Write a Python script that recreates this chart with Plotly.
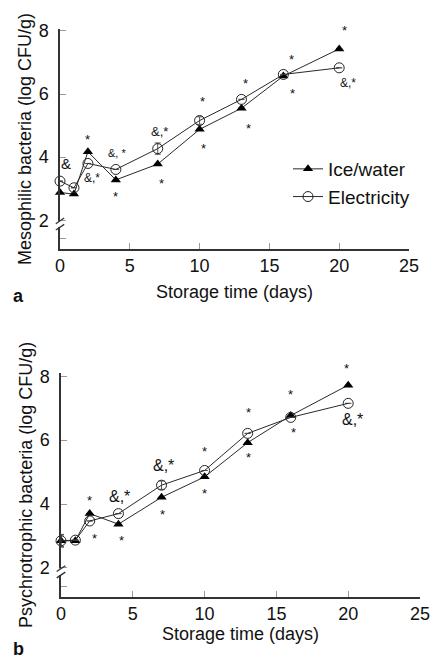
import plotly.graph_objects as go

days = [0, 1, 2, 4, 7, 10, 13, 16, 20]

# Panel a: mesophilic bacteria
meso_ice = [2.88, 2.83, 4.17, 3.28, 3.78, 4.88, 5.55, 6.57, 7.43]
meso_elec = [3.24, 3.03, 3.80, 3.61, 4.27, 5.16, 5.83, 6.62, 6.83]
meso_elec_err = [0, 0, 0, 0, 0.18, 0.12, 0, 0, 0]
meso_ice_err = [0, 0, 0, 0, 0, 0, 0, 0, 0]

# Panel b: psychrotrophic bacteria
psy_ice = [2.85, 2.85, 3.70, 3.37, 4.21, 4.85, 5.92, 6.77, 7.72]
psy_elec = [2.85, 2.87, 3.47, 3.70, 4.59, 5.05, 6.21, 6.71, 7.15]
psy_elec_err = [0.2, 0, 0, 0, 0.13, 0, 0, 0, 0]
psy_ice_err = [0.18, 0, 0, 0, 0, 0, 0, 0, 0]

# significance labels: (x, y, text, size)
meso_marks = [
    (0.45, 3.81, "&", 15), (1.96, 4.66, "*", 13), (2.3, 3.33, "&,*", 12),
    (4.1, 4.12, "&, *", 11), (4.0, 2.84, "*", 13), (7.1, 4.82, "&,*", 13),
    (7.28, 3.27, "*", 13), (10.2, 5.84, "*", 13), (10.3, 4.38, "*", 13),
    (13.3, 6.42, "*", 13), (13.5, 5.0, "*", 13), (16.55, 7.19, "*", 13),
    (16.64, 6.11, "*", 13), (20.37, 8.1, "*", 13), (20.6, 6.34, "&,*", 12),
]
psy_marks = [
    (2.0, 4.2, "*", 13), (2.3, 3.0, "*", 13), (4.05, 4.23, "&,*", 16),
    (4.2, 2.95, "*", 13), (7.15, 5.22, "&,*", 16), (7.04, 3.76, "*", 13),
    (9.97, 5.72, "*", 13), (10.0, 4.41, "*", 13), (13.04, 6.94, "*", 13),
    (13.04, 5.53, "*", 13), (16.0, 7.53, "*", 13), (16.2, 6.34, "*", 13),
    (19.85, 8.32, "*", 13), (20.3, 6.63, "&,*", 16),
]

x_ticks = [0, 5, 10, 15, 20, 25]
y_ticks = [1.43, 2, 4, 6, 8]
y_ticktext = ["", "2", "4", "6", "8"]

W, H = 432, 661
FONT = "Liberation Sans, Arial, sans-serif"
LINE = "#2a2a2a"

ya_range = [1.09, 8.06]
yb_range = [1.1, 8.1]

fig = go.Figure()

def add_panel(ice, elec, ice_err, elec_err, xa, ya, show):
    fig.add_trace(go.Scatter(
        x=days, y=ice, name="Ice/water", mode="lines+markers",
        line=dict(color=LINE, width=1),
        marker=dict(symbol="triangle-up", size=9, color="#000"),
        error_y=dict(type="data", array=ice_err, color="#555", thickness=1, width=3),
        xaxis=xa, yaxis=ya, showlegend=show, cliponaxis=False))
    fig.add_trace(go.Scatter(
        x=days, y=elec, name="Electricity", mode="lines+markers",
        line=dict(color=LINE, width=1),
        marker=dict(symbol="circle-open", size=10, color="#222", line=dict(width=1)),
        error_y=dict(type="data", array=elec_err, color="#555", thickness=1, width=3),
        xaxis=xa, yaxis=ya, showlegend=show, cliponaxis=False))

add_panel(meso_ice, meso_elec, meso_ice_err, meso_elec_err, "x", "y", True)
add_panel(psy_ice, psy_elec, psy_ice_err, psy_elec_err, "x2", "y2", False)

axis_common = dict(
    showline=True, linecolor="#333", linewidth=1.5, ticks="inside", ticklen=6,
    tickcolor="#999", showgrid=False, zeroline=False, automargin=False,
    tickfont=dict(size=18, color="#111", family=FONT),
    title_font=dict(size=18, color="#111", family=FONT),
)

fig.update_layout(
    template="none",
    width=W, height=H, margin=dict(l=0, r=0, t=0, b=0),
    paper_bgcolor="white", plot_bgcolor="white",
    font=dict(family=FONT, color="#111"),
    xaxis=dict(domain=[60 / W, 409 / W], range=[0, 25], tickvals=x_ticks,
               anchor="y", title=dict(text="Storage time (days)", standoff=10), **axis_common),
    yaxis=dict(domain=[1 - 249 / H, 1 - 29 / H], range=ya_range, tickvals=y_ticks,
               ticktext=y_ticktext, anchor="x", ticklabelstandoff=6,
               title=dict(text="Mesophilic bacteria (log CFU/g)", standoff=2), **axis_common),
    xaxis2=dict(domain=[61 / W, 420 / W], range=[0, 25], tickvals=x_ticks,
                anchor="y2", ticklabeloverflow="allow",
                title=dict(text="Storage time (days)", standoff=3), **axis_common),
    yaxis2=dict(domain=[1 - 596.7 / H, 1 - 373 / H], range=yb_range, tickvals=y_ticks,
                ticktext=y_ticktext, anchor="x2", ticklabelstandoff=6,
                title=dict(text="Psychrotrophic bacteria (log CFU/g)", standoff=2), **axis_common),
    legend=dict(x=288 / W, y=1 - 150 / H, xanchor="left", yanchor="top",
                font=dict(size=19, family=FONT, color="#111"), bgcolor="rgba(0,0,0,0)",
                itemwidth=30, tracegroupgap=0),
)

for (xa, ya, marks, rng) in [("x", "y", meso_marks, ya_range), ("x2", "y2", psy_marks, yb_range)]:
    for (mx, my, txt, sz) in marks:
        # position via axis domain fraction so labels above the range stay visible
        frac = (my - rng[0]) / (rng[1] - rng[0])
        fig.add_annotation(x=mx, y=frac, xref=xa, yref=f"{ya} domain", text=txt, showarrow=False,
                           xanchor="center", yanchor="middle",
                           font=dict(size=sz, family=FONT, color="#111"),
                           yshift=-0.22 * sz if txt == "*" else 0)

# axis breaks near 2
for xa, ya in [("x", "y"), ("x2", "y2")]:
    fig.add_shape(type="line", xref=f"{xa} domain", yref=ya, x0=0, x1=0,
                  y0=1.78, y1=1.98, line=dict(color="white", width=4))
    for yb in (1.78, 1.98):
        fig.add_shape(type="line", xref=f"{xa} domain", yref=ya, x0=-0.012, x1=0.012,
                      y0=yb - 0.09, y1=yb + 0.09, line=dict(color="#333", width=1.3))

fig.add_annotation(x=18 / W, y=1 - 296 / H, xref="paper", yref="paper", text="<b>a</b>",
                   xanchor="center", yanchor="middle",
                   showarrow=False, font=dict(size=18, family=FONT, color="#111"))
fig.add_annotation(x=18 / W, y=1 - 649 / H, xref="paper", yref="paper", text="<b>b</b>",
                   xanchor="center", yanchor="middle",
                   showarrow=False, font=dict(size=18, family=FONT, color="#111"))

fig.write_html("out.html", config={"displayModeBar": False},
               post_script="document.body.style.margin='0';")
